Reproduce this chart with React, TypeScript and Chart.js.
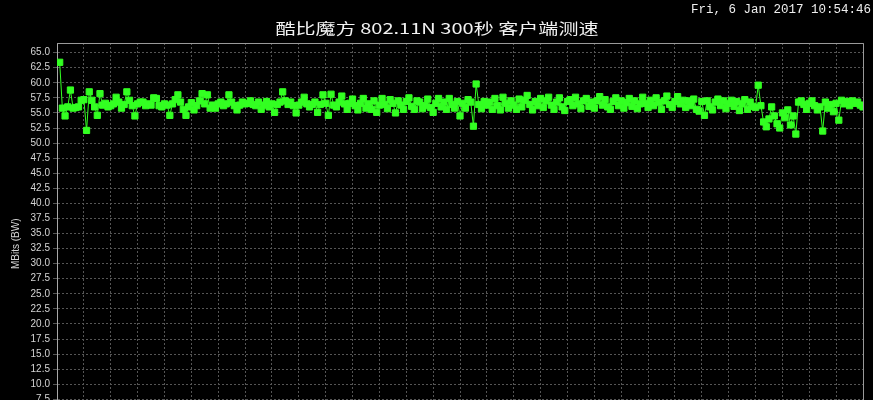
import React, { useEffect, useRef } from 'react';
import { Chart, registerables } from 'chart.js';

Chart.register(...registerables);

const TITLE = '酷比魔方 802.11N 300秒 客户端测速';
const TIMESTAMP = 'Fri, 6 Jan 2017 10:54:46';
const Y_TITLE = 'MBits (BW)';

// bandwidth per second, Mbit/s (seconds 1..300)
const BANDWIDTH = [
  63.4, 55.8, 54.5, 56.0, 58.8, 55.8, 55.9, 56.0, 57.1, 57.2,
  52.1, 58.5, 57.1, 56.0, 54.6, 58.2, 56.3, 56.6, 56.0, 56.2,
  56.5, 57.6, 56.8, 55.8, 56.4, 58.5, 57.1, 56.2, 54.5, 56.5,
  56.8, 56.8, 56.2, 56.5, 56.3, 57.5, 57.4, 56.2, 56.0, 56.5,
  56.3, 54.6, 56.5, 57.2, 58.0, 56.8, 55.6, 54.6, 56.0, 56.7,
  55.5, 56.2, 57.0, 58.2, 56.5, 58.0, 55.8, 56.3, 55.8, 56.5,
  56.8, 56.2, 56.5, 58.0, 56.8, 56.2, 55.5, 56.3, 56.8, 56.5,
  56.6, 57.0, 56.4, 56.2, 56.8, 55.6, 56.3, 56.9, 56.0, 56.5,
  55.1, 56.4, 56.8, 58.5, 57.0, 56.4, 56.8, 56.2, 55.0, 56.3,
  56.8, 57.6, 56.5, 56.0, 56.4, 56.8, 55.1, 56.4, 58.0, 56.6,
  54.6, 58.1, 56.3, 56.0, 56.8, 57.8, 56.5, 55.6, 56.6, 57.3,
  56.2, 55.5, 56.6, 57.4, 55.8, 56.5, 55.6, 57.0, 55.1, 56.3,
  57.4, 56.4, 55.7, 57.2, 56.6, 55.0, 57.0, 56.3, 55.6, 56.9,
  57.5, 56.1, 55.6, 57.0, 56.8, 55.7, 56.2, 57.3, 55.9, 55.1,
  56.6, 57.4, 56.0, 56.8, 55.6, 57.4, 56.4, 55.8, 56.9, 54.5,
  56.6, 55.8, 57.2, 56.8, 52.8, 59.8, 56.4, 55.7, 56.9, 56.3,
  56.8, 55.6, 57.4, 56.2, 55.5, 57.6, 56.6, 55.8, 57.0, 56.3,
  55.6, 57.3, 56.0, 57.1, 57.9, 56.4, 55.5, 56.9, 56.2, 57.4,
  55.9, 57.0, 57.6, 56.3, 55.6, 56.8, 57.5, 56.0, 55.4, 56.9,
  57.2, 56.2, 57.6, 56.5, 55.7, 57.0, 57.4, 56.1, 56.8, 55.8,
  57.0, 57.7, 56.3, 57.2, 56.0, 55.6, 56.9, 57.5, 56.2, 57.0,
  55.8, 56.7, 57.4, 56.1, 57.0, 55.7, 56.5, 57.6, 56.6, 55.9,
  57.1, 56.2, 57.5, 56.7, 55.6, 57.0, 57.8, 56.4, 55.9, 56.9,
  57.7, 56.5, 57.1, 55.9, 57.0, 56.2, 57.3, 55.6, 55.3, 56.9,
  54.6, 57.0, 56.0, 55.5, 56.8, 57.3, 56.2, 57.0, 55.7, 56.6,
  57.1, 56.1, 56.9, 55.4, 56.5, 57.2, 55.6, 56.8, 56.1, 55.9,
  59.6, 56.2, 53.5, 52.7, 54.0, 56.0, 54.5, 53.2, 52.5, 55.0,
  54.2, 55.5, 53.0, 54.5, 51.5, 56.8, 57.0, 56.4, 55.6, 56.6,
  57.0, 56.2, 55.5, 56.0, 52.0, 56.8, 55.8, 56.4, 55.2, 56.6,
  53.8, 57.1, 56.5, 56.9, 56.2, 57.0, 56.6, 56.8, 56.3, 56.0,
];

const Y_MIN = 0;
const Y_MAX = 66.6;
const Y_STEP = 2.5;
const Y_LAST_TICK = 65;
const X_MIN = 0;
const X_MAX = 300;
const X_STEP = 10;

const GREEN = '#33ff22';
const GRID = '#555555';
const TEXT = '#d4d4d4';

const overlay = {
  id: 'overlay',
  afterDraw(chart: any) {
    const { ctx, chartArea: a } = chart;
    ctx.save();
    ctx.strokeStyle = '#9a9a9a';
    ctx.lineWidth = 1;
    ctx.beginPath();
    ctx.moveTo(a.left, Math.round(a.top) + 0.5);
    ctx.lineTo(Math.round(a.right) + 0.5, Math.round(a.top) + 0.5);
    ctx.lineTo(Math.round(a.right) + 0.5, a.bottom);
    ctx.stroke();

    ctx.fillStyle = '#f2f2f2';
    ctx.font = '15px "Noto Sans CJK SC", "Liberation Sans", sans-serif';
    ctx.textBaseline = 'middle';
    ctx.textAlign = 'left';
    const w = ctx.measureText(TITLE).width;
    const target = 323;
    const sx = target / w;
    ctx.save();
    ctx.translate(437 - target / 2, 28);
    ctx.scale(sx, 1);
    ctx.fillText(TITLE, 0, 0);
    ctx.restore();

    ctx.font = '12.5px "Liberation Mono", "DejaVu Sans Mono", monospace';
    ctx.textAlign = 'right';
    ctx.fillStyle = '#eeeeee';
    ctx.fillText(TIMESTAMP, 871, 10);
    ctx.restore();
  },
};

export default function App() {
  const ref = useRef<HTMLCanvasElement | null>(null);

  useEffect(() => {
    document.body.style.margin = '0';
    document.body.style.background = '#000';
    const canvas = ref.current;
    if (!canvas) return;
    const points = BANDWIDTH.map((v, i) => ({ x: i + 1, y: v }));
    const chart = new Chart(canvas, {
      type: 'line',
      data: {
        datasets: [
          {
            data: points,
            borderColor: GREEN,
            backgroundColor: GREEN,
            borderWidth: 1,
            pointStyle: 'rect',
            pointRadius: 4.4,
            pointBorderWidth: 1,
            pointBorderColor: GREEN,
            pointBackgroundColor: GREEN,
            tension: 0,
            fill: false,
          },
        ],
      },
      options: {
        responsive: false,
        animation: false,
        devicePixelRatio: 1,
        layout: { padding: { top: 43, right: 10, bottom: 35.5, left: 0 } },
        plugins: {
          legend: { display: false },
          tooltip: { enabled: false },
          title: { display: false },
        },
        scales: {
          x: {
            type: 'linear',
            min: X_MIN,
            max: X_MAX,
            ticks: { stepSize: X_STEP, display: false },
            grid: { color: GRID, drawTicks: false, lineWidth: 1 },
            border: { display: false, dash: [2, 2] },
            afterFit: (s: any) => {
              s.height = 0;
            },
          },
          y: {
            type: 'linear',
            min: Y_MIN,
            max: Y_MAX,
            afterBuildTicks: (s: any) => {
              const ticks = [];
              for (let v = Y_MIN; v <= Y_LAST_TICK + 1e-9; v += Y_STEP) ticks.push({ value: v });
              s.ticks = ticks;
            },
            afterFit: (s: any) => {
              s.width = 57;
            },
            ticks: {
              stepSize: Y_STEP,
              color: TEXT,
              padding: 3,
              font: { family: '"Liberation Sans", Arial, sans-serif', size: 10 },
              callback: (v: any) => Number(v).toFixed(1),
            },
            grid: { color: GRID, tickLength: 4, drawTicks: true, tickColor: GRID },
            border: { display: true, color: '#a8a8a8', width: 1, dash: [2, 2] },
            title: {
              display: true,
              text: Y_TITLE,
              color: TEXT,
              font: { family: '"Liberation Sans", Arial, sans-serif', size: 10 },
              padding: { top: 10, bottom: 0 },
            },
          },
        },
      },
      plugins: [overlay],
    });
    return () => chart.destroy();
  }, []);

  return (
    <div style={{ width: 873, height: 400, overflow: 'hidden', background: '#000' }}>
      <canvas ref={ref} width={873} height={480} style={{ display: 'block' }} />
    </div>
  );
}
